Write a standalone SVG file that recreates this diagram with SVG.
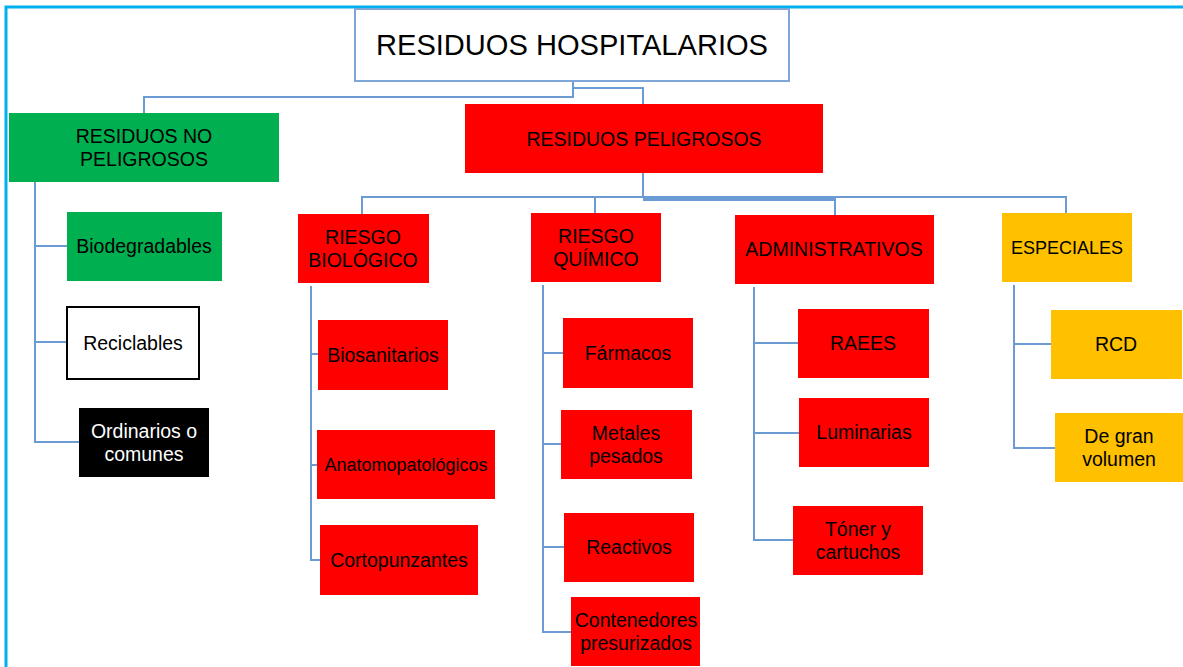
<svg xmlns="http://www.w3.org/2000/svg" width="1183" height="667" viewBox="0 0 1183 667">
<style>
text{font-family:"Liberation Sans",Arial,sans-serif;font-size:19.5px;fill:#000;text-anchor:middle}
.t{font-size:30px}
.w{fill:#fff}
.red{fill:#FF0000}
.grn{fill:#00B050}
.org{fill:#FFC000}
.blk{fill:#000}
.c path{fill:none;stroke:#6A9BD3;stroke-width:2}
</style>
<rect width="1183" height="667" fill="#fff"/>
<path d="M6,667 V7 H1183" fill="none" stroke="#00B0F0" stroke-width="3"/>
<g class="c" id="connectors">
<path d="M573,81 V97 H144 V113"/>
<path d="M573,88 H643 V104"/>
<path d="M643,173 V198"/>
<path d="M362,214 V197 H1066 V213"/>
<path d="M595,197 V213"/>
<path d="M835,197 V215"/>
<path d="M643,199.5 H835" style="stroke-width:3"/>
<path d="M35,182 V442 H79"/>
<path d="M35,246 H67"/>
<path d="M35,342 H67"/>
<path d="M311,286 V560 H320"/>
<path d="M311,354 H318"/>
<path d="M311,465 H317"/>
<path d="M543,285 V632 H571"/>
<path d="M543,353 H563"/>
<path d="M543,444 H561"/>
<path d="M543,547 H564"/>
<path d="M754,287 V540 H793"/>
<path d="M754,343 H798"/>
<path d="M754,433 H799"/>
<path d="M1014,285 V448 H1055"/>
<path d="M1014,344 H1051"/>
</g>
<g id="title"><rect x="355" y="9" width="434" height="72" fill="#fff" stroke="#7EA6D8" stroke-width="2"/><text class="t" x="572" y="55" textLength="392" lengthAdjust="spacingAndGlyphs">RESIDUOS HOSPITALARIOS</text></g>
<g id="no-peligrosos"><rect class="grn" x="9" y="113" width="270" height="69"/><text x="144" y="143">RESIDUOS NO</text><text x="144" y="166">PELIGROSOS</text></g>
<g id="peligrosos"><rect class="red" x="465" y="104" width="358" height="69"/><text x="644" y="146">RESIDUOS PELIGROSOS</text></g>
<g id="biodegradables"><rect class="grn" x="67" y="212" width="155" height="69"/><text x="144" y="253">Biodegradables</text></g>
<g id="reciclables"><rect x="67" y="307" width="132" height="72" fill="#fff" stroke="#000" stroke-width="2"/><text x="133" y="350">Reciclables</text></g>
<g id="ordinarios"><rect class="blk" x="79" y="408" width="130" height="69"/><text class="w" x="144" y="438">Ordinarios o</text><text class="w" x="144" y="461">comunes</text></g>
<g id="riesgo-biologico"><rect class="red" x="298" y="214" width="131" height="69"/><text x="363" y="244">RIESGO</text><text x="363" y="267">BIOLÓGICO</text></g>
<g id="biosanitarios"><rect class="red" x="318" y="320" width="130" height="70"/><text x="383" y="362">Biosanitarios</text></g>
<g id="anatomopatologicos"><rect class="red" x="317" y="430" width="178" height="69"/><text x="406" y="471" style="font-size:18px">Anatomopatológicos</text></g>
<g id="cortopunzantes"><rect class="red" x="320" y="525" width="158" height="70"/><text x="399" y="567">Cortopunzantes</text></g>
<g id="riesgo-quimico"><rect class="red" x="531" y="213" width="130" height="69"/><text x="596" y="243">RIESGO</text><text x="596" y="266">QUÍMICO</text></g>
<g id="farmacos"><rect class="red" x="563" y="318" width="130" height="70"/><text x="628" y="360">Fármacos</text></g>
<g id="metales"><rect class="red" x="561" y="410" width="131" height="69"/><text x="626" y="440">Metales</text><text x="626" y="463">pesados</text></g>
<g id="reactivos"><rect class="red" x="564" y="513" width="130" height="69"/><text x="629" y="554">Reactivos</text></g>
<g id="contenedores"><rect class="red" x="571" y="597" width="129" height="69"/><text x="636" y="627">Contenedores</text><text x="636" y="650">presurizados</text></g>
<g id="administrativos"><rect class="red" x="735" y="215" width="199" height="69"/><text x="834" y="256">ADMINISTRATIVOS</text></g>
<g id="raees"><rect class="red" x="798" y="309" width="131" height="69"/><text x="863" y="350">RAEES</text></g>
<g id="luminarias"><rect class="red" x="799" y="398" width="130" height="69"/><text x="864" y="439">Luminarias</text></g>
<g id="toner"><rect class="red" x="793" y="506" width="130" height="69"/><text x="858" y="536">Tóner y</text><text x="858" y="559">cartuchos</text></g>
<g id="especiales"><rect class="org" x="1002" y="213" width="130" height="69"/><text x="1067" y="254" style="font-size:18px">ESPECIALES</text></g>
<g id="rcd"><rect class="org" x="1051" y="310" width="131" height="69"/><text x="1116" y="351">RCD</text></g>
<g id="gran-volumen"><rect class="org" x="1055" y="413" width="128" height="69"/><text x="1119" y="443">De gran</text><text x="1119" y="466">volumen</text></g>
</svg>
